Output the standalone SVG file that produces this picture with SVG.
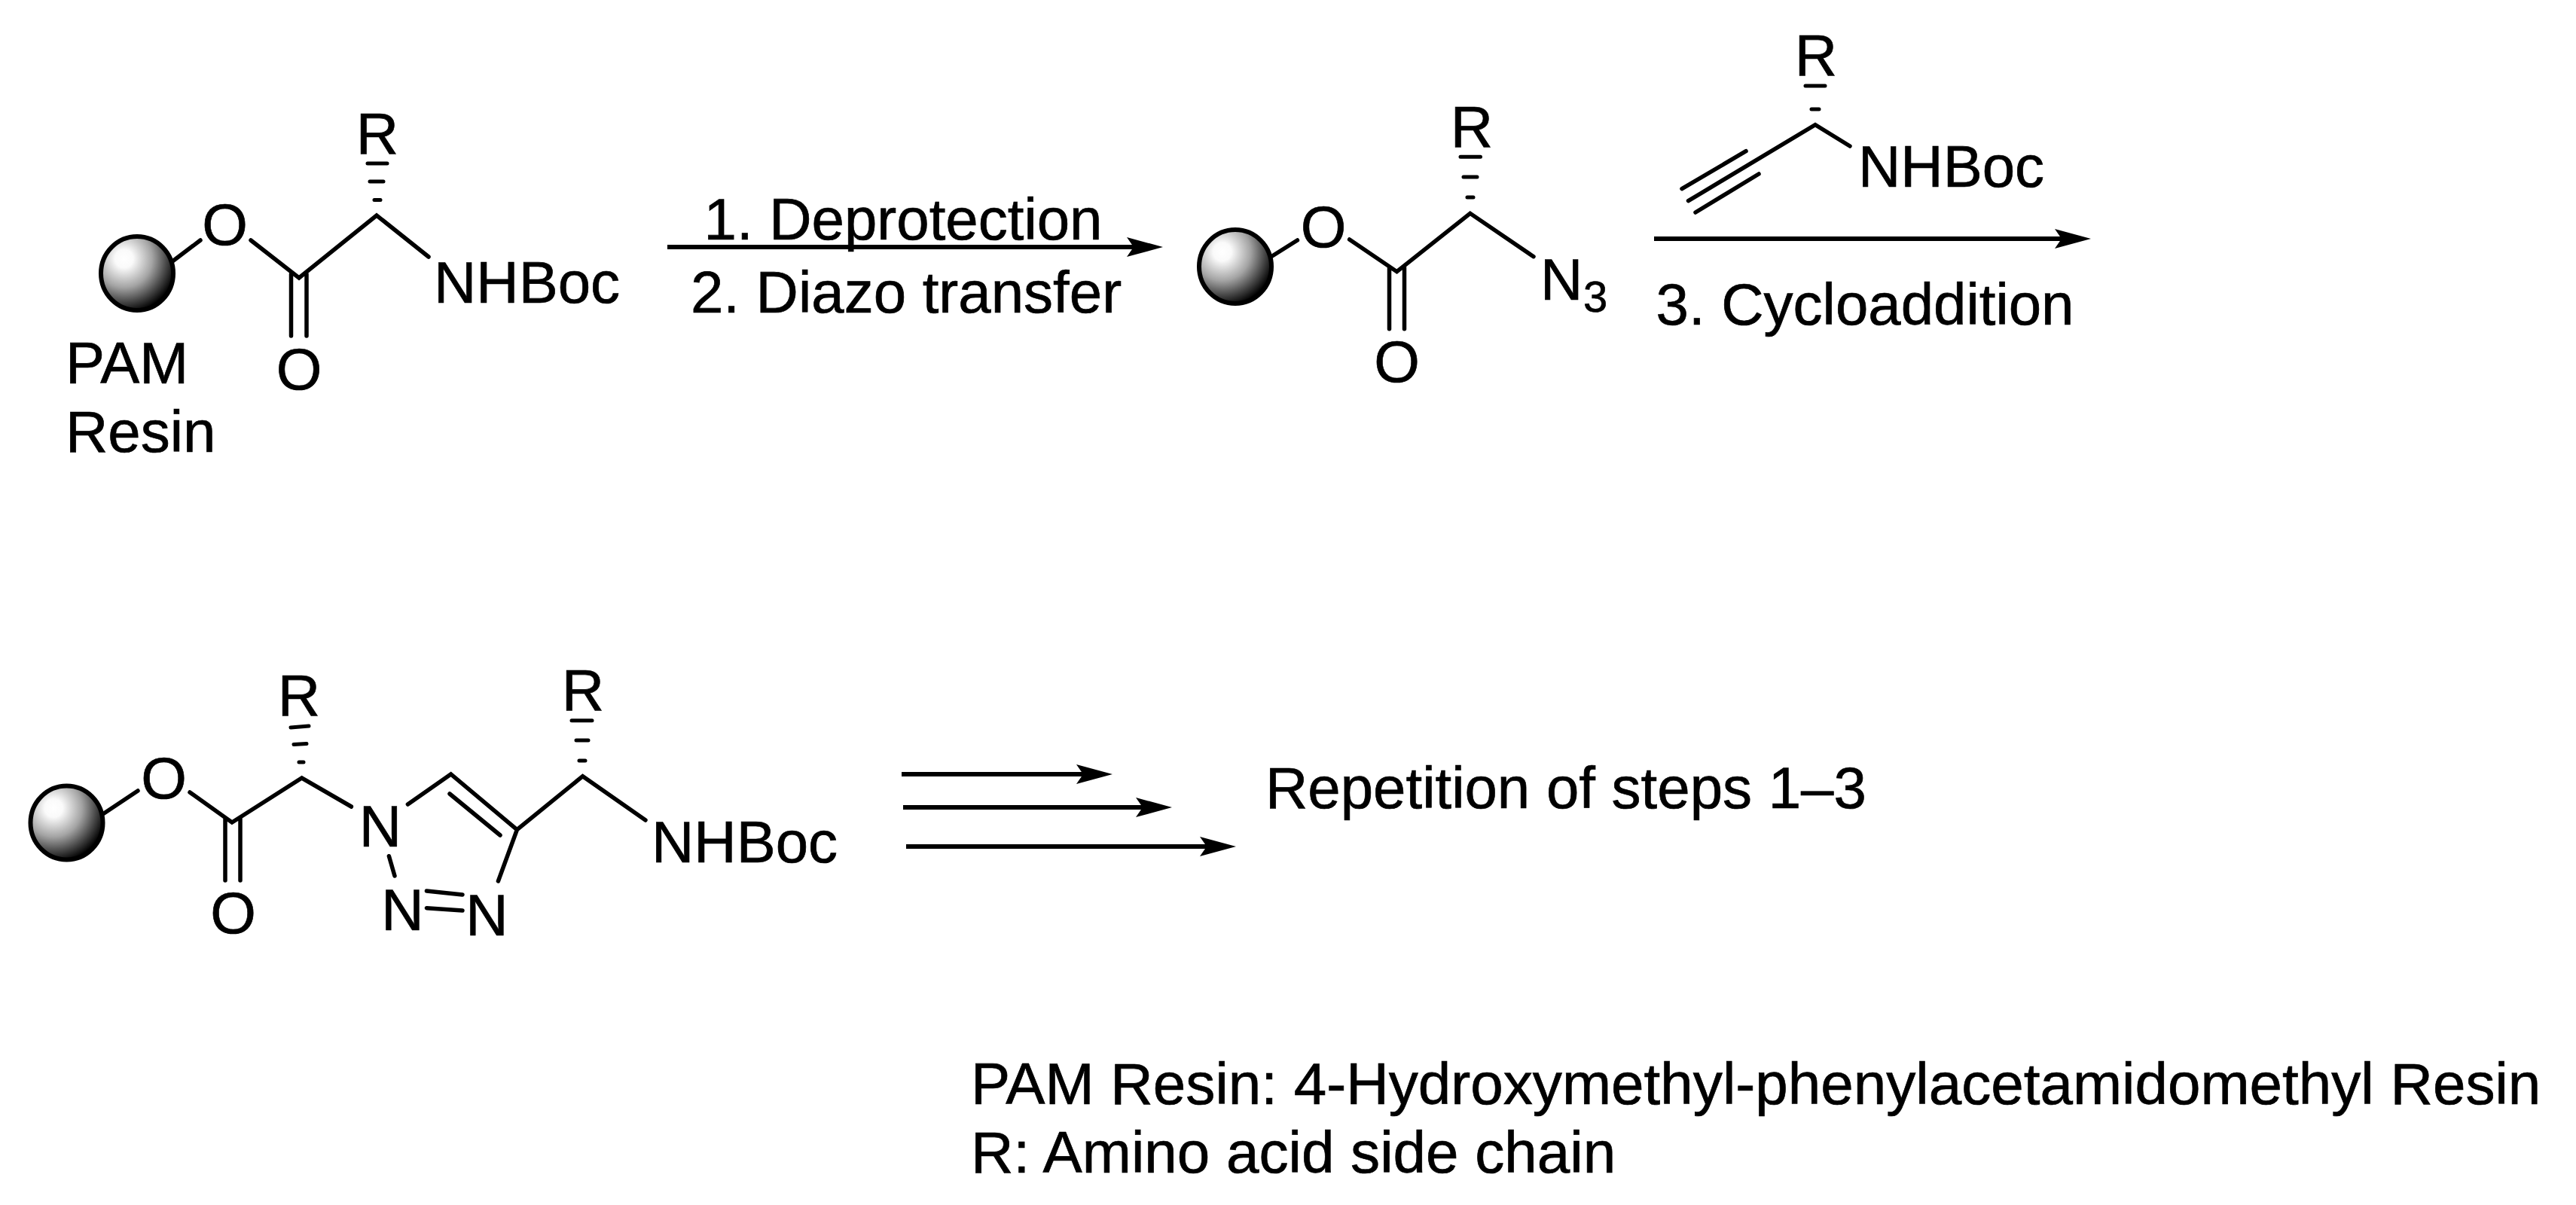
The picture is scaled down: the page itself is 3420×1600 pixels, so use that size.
<svg xmlns="http://www.w3.org/2000/svg" width="3420" height="1600" viewBox="0 0 3420 1600">
<style>
text{font-family:"Liberation Sans",Arial,sans-serif;font-size:78px;fill:#000;stroke:#000;stroke-width:0.7}
.m{text-anchor:middle}
.sub{font-size:58px}
.legend{font-size:78.200px}
.b{stroke:#000;stroke-width:5.500;stroke-linecap:round;fill:none}
.h{stroke:#000;stroke-width:5;stroke-linecap:round;fill:none}
.a{stroke:#000;stroke-width:6;fill:none;marker-end:url(#head)}
.ball{fill:url(#bead);stroke:#000;stroke-width:6}
</style>
<defs>
<radialGradient id="bead" cx="0.32" cy="0.3" r="0.78" fx="0.32" fy="0.3">
<stop offset="0" stop-color="#fff"/><stop offset="0.16" stop-color="#fafafa"/><stop offset="0.5" stop-color="#a4a4a4"/><stop offset="0.75" stop-color="#484848"/><stop offset="0.95" stop-color="#000"/>
</radialGradient>
<marker id="head" markerUnits="userSpaceOnUse" markerWidth="50" markerHeight="30" refX="11" refY="15" orient="auto" overflow="visible">
<path d="M0,2 L48,15 L0,28 L9,15Z" fill="#000"/>
</marker>
</defs>
<rect width="3420" height="1600" fill="#fff"/>
<g id="connectors">
<line class="a" x1="886" y1="328" x2="1507" y2="328"/>
<line class="a" x1="2196" y1="317" x2="2739" y2="317"/>
<line class="a" x1="1197" y1="1028" x2="1440" y2="1028"/>
<line class="a" x1="1199" y1="1072" x2="1519" y2="1072"/>
<line class="a" x1="1203" y1="1124" x2="1604" y2="1124"/>
</g>
<g id="reactant">
<ellipse class="ball" cx="182" cy="363" rx="48" ry="49"/>
<path class="b" d="M229,347L266,319M333,319L397,369L500,286L569,341M386.500,364V446M407,364V446"/>
<path class="h" d="M488,217H514M491,241H509M497,265.500H505"/>
<text class="m" x="298.500" y="325">O</text>
<text class="m" x="397" y="517">O</text>
<text class="m" x="501" y="204">R</text>
<text x="576" y="402">NHBoc</text>
<text x="87" y="509">PAM</text>
<text x="87" y="600">Resin</text>
</g>
<g id="step-1-2-label">
<text class="m" x="1199" y="318">1. Deprotection</text>
<text class="m" x="1203" y="415">2. Diazo transfer</text>
</g>
<g id="azide">
<ellipse class="ball" cx="1640" cy="354" rx="48" ry="49"/>
<path class="b" d="M1689,340L1722.400,319M1791.600,318L1854.500,360.700L1951.800,283.300L2036,340.700M1844.500,355V436.700M1864.500,355V436.700"/>
<path class="h" d="M1939,208.300H1965.500M1943,235H1961M1948,262H1956"/>
<text class="m" x="1757" y="328">O</text>
<text class="m" x="1854.500" y="507">O</text>
<text class="m" x="1954" y="195">R</text>
<text x="2045" y="398">N</text>
<text class="sub" x="2102" y="414">3</text>
</g>
<g id="alkyne">
<path class="b" d="M2241.500,266.700L2410,165.700L2456,194M2233,250.700L2318,200.700M2251,282L2335,231"/>
<path class="h" d="M2397,114H2423M2405,145H2415"/>
<text class="m" x="2411" y="100">R</text>
<text x="2467" y="248">NHBoc</text>
</g>
<g id="step-3-label">
<text class="m" x="2476" y="431">3. Cycloaddition</text>
</g>
<g id="product">
<ellipse class="ball" cx="88.500" cy="1092.500" rx="48" ry="49"/>
<path class="b" d="M138,1080L183,1050M252,1052L308,1092L400.700,1033L466.400,1071M299,1087V1169M319,1087V1169"/>
<path class="h" d="M386,966L410,964M390,988.500L407,987.500M397,1012H403"/>
<path class="b" d="M541.400,1068L598.600,1028L686.400,1101.700L773.600,1030.700L857,1089M597,1054L664,1109M516.400,1136.700L524,1163M566.400,1183L614,1188M566.400,1205.700L614,1209M686.400,1101.700L661.400,1170"/>
<path class="h" d="M759,956.700H786M765,983H781M769,1010H777"/>
<text class="m" x="217.500" y="1060">O</text>
<text class="m" x="309.500" y="1239">O</text>
<text class="m" x="397" y="950">R</text>
<text class="m" x="774" y="943">R</text>
<text class="m" x="505" y="1124">N</text>
<text class="m" x="534.500" y="1235">N</text>
<text class="m" x="646.500" y="1241.700">N</text>
<text x="865" y="1145">NHBoc</text>
</g>
<g id="repeat-label">
<text x="1680" y="1073">Repetition of steps 1–3</text>
</g>
<g id="legend">
<text class="legend" x="1289" y="1466">PAM Resin: 4-Hydroxymethyl-phenylacetamidomethyl Resin</text>
<text class="legend" x="1289" y="1557">R: Amino acid side chain</text>
</g>
</svg>
